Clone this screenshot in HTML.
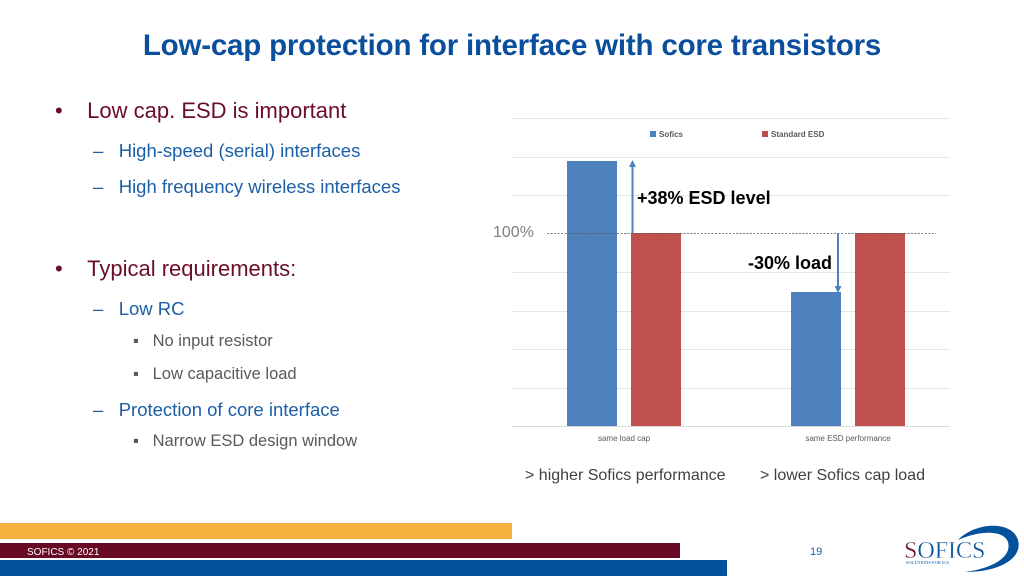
<!DOCTYPE html>
<html><head><style>
body{margin:0;width:1024px;height:576px;position:relative;background:#fff;font-family:"Liberation Sans",sans-serif;overflow:hidden}
.a{position:absolute;white-space:nowrap}
</style></head><body>
<div class="a" style="left:0;width:1024px;top:29px;text-align:center;font-size:29.5px;font-weight:bold;color:#0b4f9c;letter-spacing:-0.2px">Low-cap protection for interface with core transistors</div>
<div class="a" style="left:55px;top:98px;font-size:22px;color:#6b0d26">•&nbsp;&nbsp;&nbsp;&nbsp;Low cap. ESD is important</div>
<div class="a" style="left:93px;top:140px;font-size:18.5px;color:#1b5fa8">–&nbsp;&nbsp;&nbsp;High-speed (serial) interfaces</div>
<div class="a" style="left:93px;top:176px;font-size:18.5px;color:#1b5fa8">–&nbsp;&nbsp;&nbsp;High frequency wireless interfaces</div>
<div class="a" style="left:55px;top:256px;font-size:22px;color:#6b0d26">•&nbsp;&nbsp;&nbsp;&nbsp;Typical requirements:</div>
<div class="a" style="left:93px;top:298px;font-size:18.5px;color:#1b5fa8">–&nbsp;&nbsp;&nbsp;Low RC</div>
<div class="a" style="left:133px;top:332px;font-size:16.5px;color:#595959">▪&nbsp;&nbsp;&nbsp;No input resistor</div>
<div class="a" style="left:133px;top:365px;font-size:16.5px;color:#595959">▪&nbsp;&nbsp;&nbsp;Low capacitive load</div>
<div class="a" style="left:93px;top:399px;font-size:18.5px;color:#1b5fa8">–&nbsp;&nbsp;&nbsp;Protection of core interface</div>
<div class="a" style="left:133px;top:432px;font-size:16.5px;color:#595959">▪&nbsp;&nbsp;&nbsp;Narrow ESD design window</div>
<svg class="a" style="left:0;top:0" width="1024" height="576">
<g stroke="#e6e6e6" stroke-width="1">
<line x1="512" x2="950" y1="118.5" y2="118.5"/><line x1="512" x2="950" y1="157.5" y2="157.5"/>
<line x1="512" x2="950" y1="195.5" y2="195.5"/><line x1="512" x2="950" y1="272.5" y2="272.5"/>
<line x1="512" x2="950" y1="311.5" y2="311.5"/><line x1="512" x2="950" y1="349.5" y2="349.5"/>
<line x1="512" x2="950" y1="388.5" y2="388.5"/><line x1="512" x2="950" y1="426.5" y2="426.5" stroke="#d9d9d9"/>
</g>
<rect x="650" y="131" width="6" height="6" fill="#4f81bd"/>
<text x="659" y="137" font-size="8" font-weight="bold" fill="#595959">Sofics</text>
<rect x="762" y="131" width="6" height="6" fill="#c0504d"/>
<text x="771" y="137" font-size="8" font-weight="bold" fill="#595959">Standard ESD</text>
<rect x="567" y="161" width="50" height="265" fill="#4f81bd"/>
<rect x="631" y="233" width="50" height="193" fill="#c0504d"/>
<rect x="791" y="292" width="50" height="134" fill="#4f81bd"/>
<rect x="855" y="233" width="50" height="193" fill="#c0504d"/>
<line x1="547" x2="936" y1="233.5" y2="233.5" stroke="#555" stroke-width="0.8" stroke-dasharray="2,1.5"/>
<line x1="632.5" x2="632.5" y1="233" y2="166" stroke="#4f81bd" stroke-width="2"/>
<polygon points="632.5,160 629,167 636,167" fill="#4f81bd"/>
<line x1="838" x2="838" y1="233" y2="287" stroke="#4f81bd" stroke-width="2"/>
<polygon points="838,293 834.5,286 841.5,286" fill="#4f81bd"/>
<text x="493" y="237" font-size="16" fill="#7f7f7f">100%</text>
<text x="637" y="204" font-size="18" font-weight="bold" fill="#000">+38% ESD level</text>
<text x="748" y="269" font-size="18" font-weight="bold" fill="#000">-30% load</text>
<text x="624" y="441" font-size="8" fill="#595959" text-anchor="middle">same load cap</text>
<text x="848" y="441" font-size="8" fill="#595959" text-anchor="middle">same ESD performance</text>
<text x="525" y="480" font-size="16" fill="#404040">&gt; higher Sofics performance</text>
<text x="760" y="480" font-size="16" fill="#404040">&gt; lower Sofics cap load</text>
<rect x="0" y="523" width="512" height="16" fill="#f6b23e"/>
<rect x="0" y="543" width="680" height="15" fill="#680a26"/>
<rect x="0" y="560" width="727" height="16" fill="#04529c"/>
<text x="27" y="555" font-size="10" fill="#fff">SOFICS © 2021</text>
<text x="810" y="555" font-size="11" fill="#1b5fa8">19</text>
<path d="M958,540 C975,522 1012,520 1018,540 C1023,558 1000,572 965,572 C995,568 1012,556 1008,542 C1004,530 980,530 958,540 Z" fill="#04529c"/>
<text x="904" y="558" font-size="24" font-family="Liberation Serif,serif" fill="#04529c" stroke="#fff" stroke-width="0.4"><tspan fill="#6b0d26">S</tspan>OFICS</text>
<text x="906" y="564" font-size="4.5" font-family="Liberation Serif,serif" fill="#04529c">SOLUTIONS FOR ICS</text>
</svg>
</body></html>
